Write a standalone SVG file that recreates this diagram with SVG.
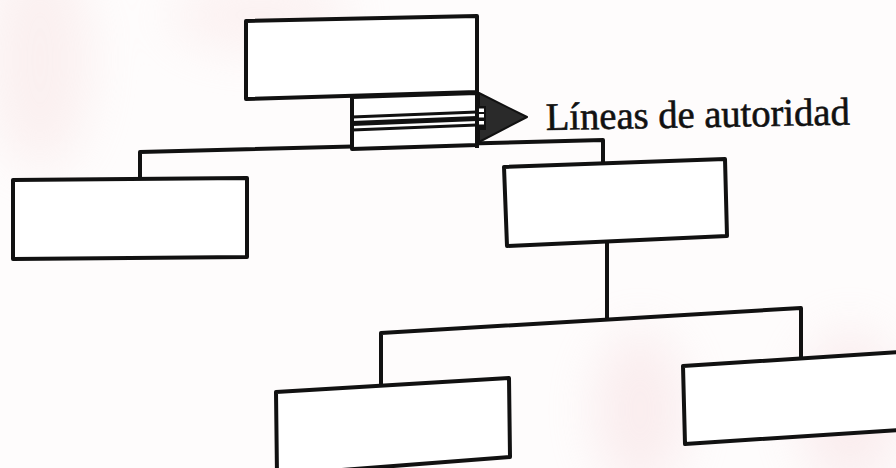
<svg xmlns="http://www.w3.org/2000/svg" width="896" height="468" viewBox="0 0 896 468">
  <defs>
    <filter id="blur" x="-50%" y="-50%" width="200%" height="200%">
      <feGaussianBlur stdDeviation="25"/>
    </filter>
    <style>
      .box { fill: #ffffff; stroke: #111111; stroke-width: 4; stroke-linejoin: round; }
      .conn { fill: none; stroke: #111111; stroke-width: 4; stroke-linejoin: round; }
      .thin { fill: none; stroke: #111111; stroke-width: 3; }
      .label { font-family: "Liberation Serif", "DejaVu Serif", serif; font-size: 39px; fill: #111111; stroke: #111111; stroke-width: 0.6; }
    </style>
  </defs>
  <rect width="896" height="468" fill="#fefcfc"/>
  <g id="background" filter="url(#blur)" opacity="0.4">
    <ellipse cx="40" cy="60" rx="50" ry="110" fill="#f6dede"/>
    <ellipse cx="260" cy="15" rx="90" ry="35" fill="#f8e0e0"/>
    <ellipse cx="640" cy="410" rx="45" ry="80" fill="#f4d6d9"/>
    <ellipse cx="850" cy="410" rx="50" ry="80" fill="#f4d6d9"/>
  </g>

  <g id="connectors">
    <polyline class="conn" points="140,180 140,152 603,140 603,165"/>
    <polyline class="conn" points="607,241 607,319"/>
    <polyline class="conn" points="381,386 381,333 801,308 801,358"/>
  </g>

  <g id="node-top">
    <polygon class="box" points="246,21 477,16 477,92 246,99"/>
  </g>

  <g id="pencil">
    <polygon points="479,93 527,117 479,142" fill="#2a2a2a" stroke="#111111" stroke-width="2" stroke-linejoin="round"/>
    <polygon class="box" points="352,97 477,93 477,145 352,149"/>
    <line class="thin" x1="352" y1="117" x2="477" y2="112"/>
    <line x1="352" y1="123.5" x2="477" y2="118.5" stroke="#111111" stroke-width="5"/>
    <line class="thin" x1="352" y1="130" x2="477" y2="125"/>
    <rect x="477" y="106" width="9" height="24" fill="#111111"/>
    <rect x="478" y="108.5" width="6" height="3.5" fill="#ffffff"/>
    <rect x="478" y="114" width="6" height="3.5" fill="#ffffff"/>
    <rect x="478" y="121" width="6" height="3.5" fill="#ffffff"/>
    <line x1="477" y1="90" x2="477" y2="148" stroke="#111111" stroke-width="4"/>
  </g>

  <g id="node-left">
    <polygon class="box" points="13,180 247,178 247,257 13,259"/>
  </g>

  <g id="node-right">
    <polygon class="box" points="504,167 725,159 727,236 507,246"/>
  </g>

  <g id="node-bottom-left">
    <polygon class="box" points="276,392 509,378 510,457 277,475"/>
  </g>

  <g id="node-bottom-right">
    <polygon class="box" points="683,366 900,352 900,430 685,444"/>
  </g>

  <g id="label">
    <text class="label" x="546" y="130" textLength="304" lengthAdjust="spacingAndGlyphs" transform="rotate(-1 546 130)">Líneas de autoridad</text>
  </g>
</svg>
